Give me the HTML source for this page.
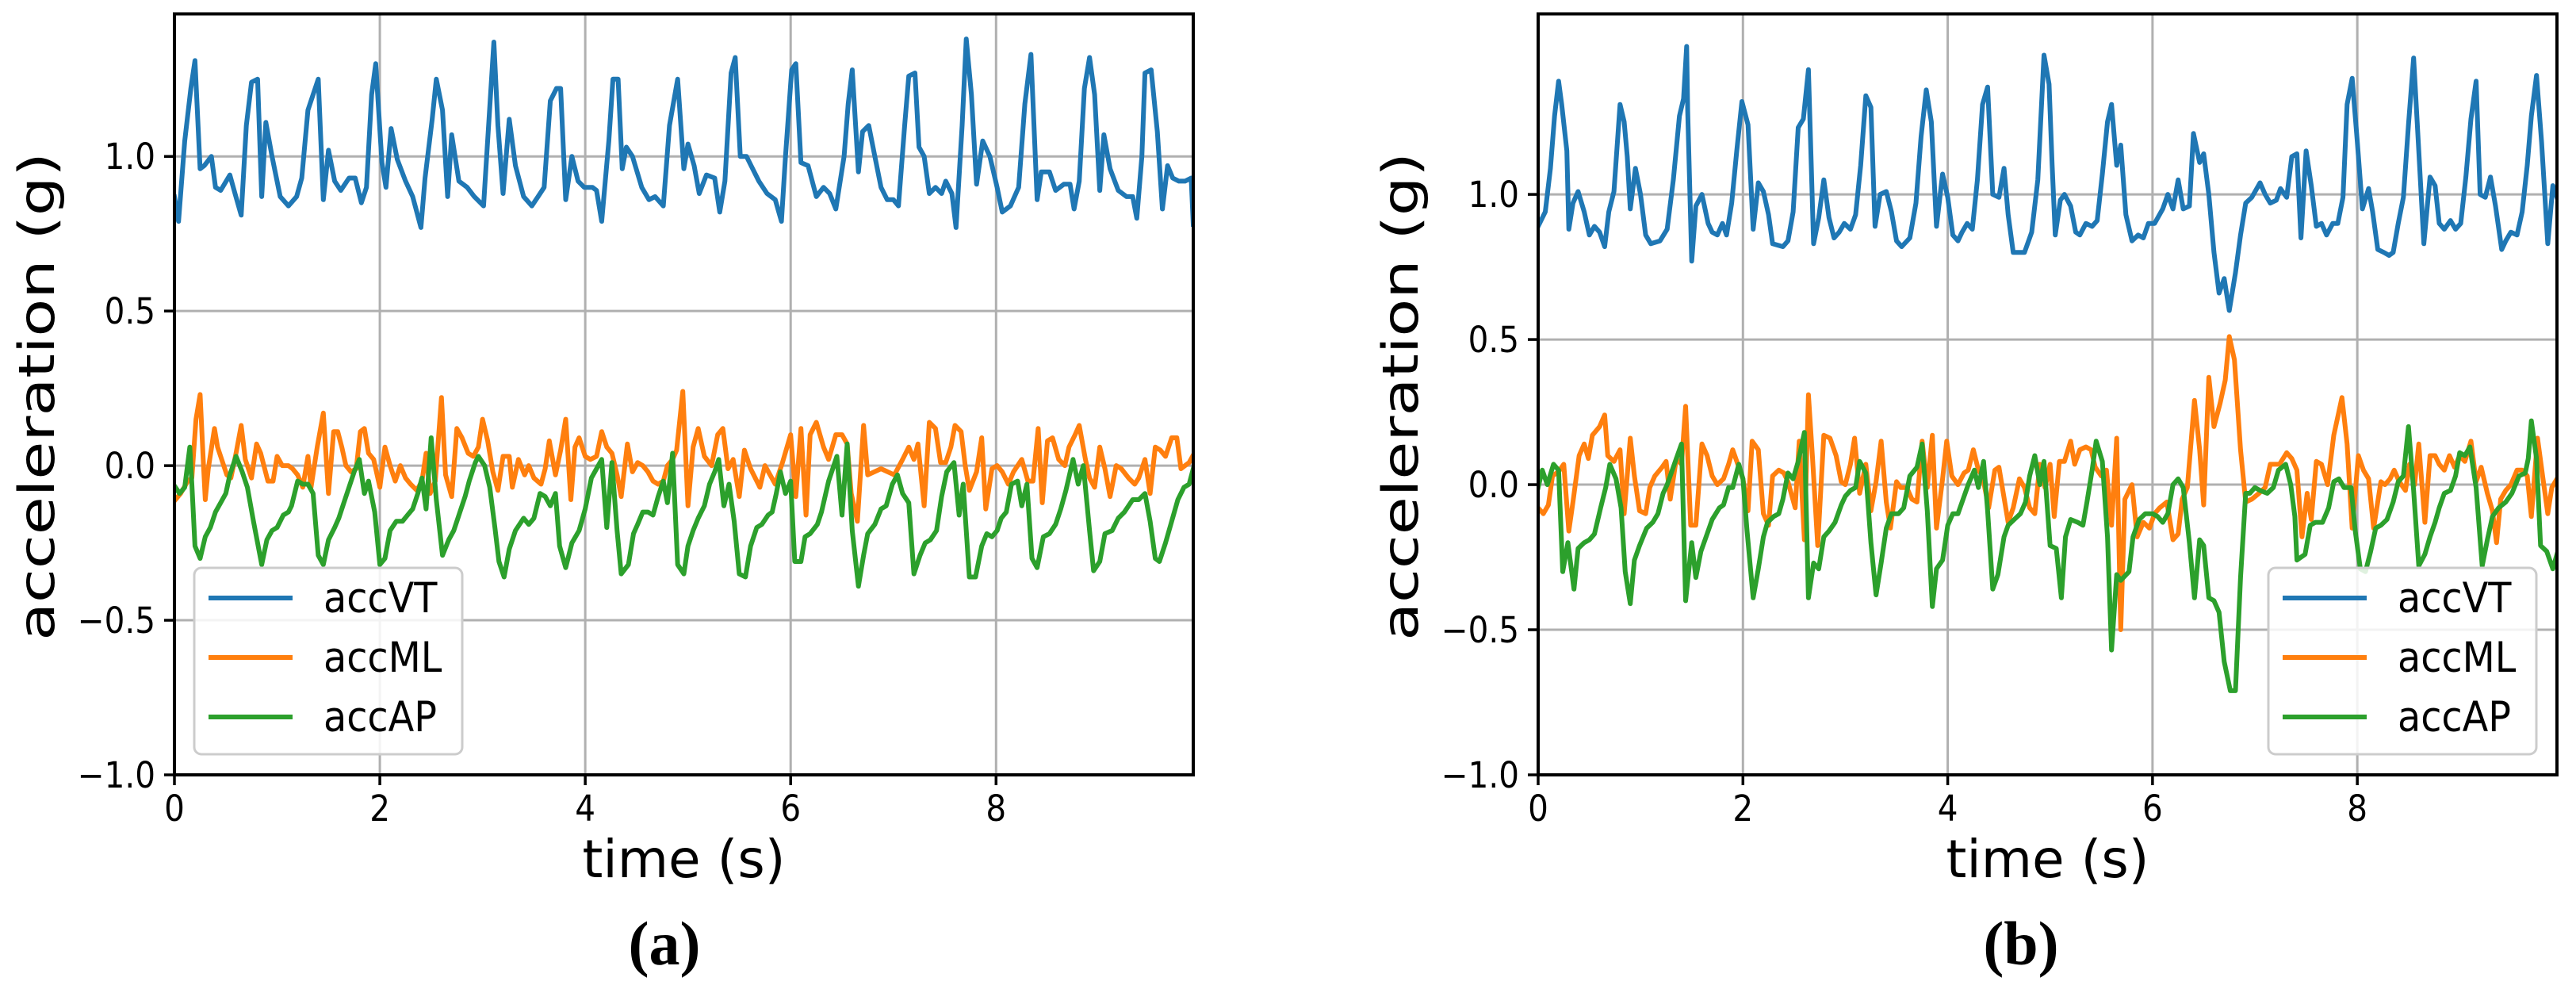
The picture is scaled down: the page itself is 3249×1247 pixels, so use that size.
<!DOCTYPE html>
<html><head><meta charset="utf-8"><style>
html,body{margin:0;padding:0;background:#fff;}
svg{display:block;}
text{font-family:"DejaVu Sans","Liberation Sans",sans-serif;}
.tick{font-family:"DejaVu Sans Condensed","DejaVu Sans",sans-serif;font-size:45px;fill:#000;}
.cap{font-family:"Liberation Serif","DejaVu Serif",serif;font-weight:bold;font-size:78px;}
</style></head>
<body>
<svg id="fig" width="3249" height="1247" viewBox="0 0 3249 1247" xmlns="http://www.w3.org/2000/svg"></svg>
<script>
// ---------- data: panel (a) ----------
const tVT_a=[0,0.04,0.10,0.16,0.20,0.25,0.29,0.36,0.40,0.45,0.54,0.59,0.65,0.70,0.75,0.81,0.85,0.89,0.95,1.03,1.11,1.19,1.24,1.30,1.40,1.45,1.50,1.56,1.62,1.70,1.76,1.82,1.87,1.92,1.96,2.02,2.06,2.11,2.17,2.25,2.32,2.40,2.44,2.51,2.55,2.61,2.66,2.70,2.77,2.85,2.92,3.01,3.04,3.11,3.15,3.20,3.26,3.32,3.40,3.48,3.54,3.60,3.66,3.72,3.76,3.81,3.87,3.93,3.99,4.07,4.11,4.16,4.23,4.27,4.32,4.36,4.40,4.46,4.55,4.62,4.68,4.76,4.82,4.90,4.96,5.00,5.06,5.11,5.18,5.26,5.31,5.36,5.42,5.46,5.51,5.57,5.63,5.69,5.77,5.85,5.91,5.95,6.01,6.05,6.10,6.17,6.25,6.32,6.38,6.44,6.52,6.56,6.60,6.66,6.70,6.76,6.82,6.88,6.94,7.00,7.05,7.11,7.15,7.21,7.25,7.30,7.35,7.41,7.47,7.51,7.57,7.61,7.67,7.71,7.76,7.81,7.87,7.94,8.01,8.06,8.14,8.22,8.28,8.34,8.40,8.44,8.52,8.58,8.66,8.72,8.76,8.81,8.86,8.91,8.96,9.01,9.05,9.11,9.19,9.27,9.33,9.37,9.42,9.45,9.51,9.57,9.62,9.67,9.72,9.78,9.84,9.90,9.92];
const vVT_a=[0.87,0.79,1.05,1.22,1.31,0.96,0.97,1.00,0.90,0.89,0.94,0.88,0.81,1.10,1.24,1.25,0.87,1.11,1.00,0.87,0.84,0.87,0.93,1.15,1.25,0.86,1.02,0.92,0.89,0.93,0.93,0.85,0.90,1.20,1.30,0.98,0.90,1.09,0.99,0.92,0.87,0.77,0.93,1.12,1.25,1.15,0.87,1.07,0.92,0.90,0.87,0.84,1.00,1.37,1.10,0.88,1.12,0.97,0.87,0.84,0.87,0.90,1.18,1.22,1.22,0.86,1.00,0.92,0.90,0.90,0.89,0.79,1.05,1.25,1.25,0.96,1.03,1.00,0.90,0.86,0.87,0.84,1.10,1.25,0.96,1.04,0.97,0.88,0.94,0.93,0.82,0.92,1.27,1.32,1.00,1.00,0.96,0.92,0.88,0.86,0.79,1.00,1.28,1.30,0.98,0.97,0.87,0.90,0.88,0.83,1.00,1.17,1.28,0.95,1.08,1.10,1.00,0.90,0.86,0.86,0.84,1.10,1.26,1.27,1.03,1.00,0.88,0.90,0.88,0.92,0.88,0.77,1.10,1.38,1.20,0.91,1.05,1.00,0.90,0.82,0.84,0.90,1.17,1.33,0.86,0.95,0.95,0.89,0.91,0.91,0.83,0.92,1.22,1.32,1.20,0.89,1.07,0.96,0.89,0.87,0.87,0.80,1.00,1.27,1.28,1.08,0.83,0.97,0.93,0.92,0.92,0.93,0.78];
const tML_a=[0.01,0.06,0.13,0.17,0.21,0.25,0.28,0.30,0.33,0.39,0.42,0.46,0.51,0.55,0.60,0.65,0.69,0.75,0.80,0.84,0.91,0.96,1.00,1.05,1.11,1.15,1.20,1.25,1.30,1.33,1.39,1.45,1.50,1.55,1.59,1.63,1.67,1.72,1.77,1.81,1.85,1.89,1.94,2.00,2.05,2.10,2.15,2.20,2.25,2.30,2.36,2.41,2.45,2.49,2.54,2.60,2.64,2.70,2.75,2.80,2.86,2.91,2.96,3.00,3.05,3.10,3.15,3.20,3.26,3.29,3.35,3.41,3.45,3.50,3.57,3.61,3.65,3.71,3.76,3.81,3.86,3.90,3.94,4.00,4.05,4.11,4.16,4.21,4.26,4.31,4.35,4.41,4.46,4.51,4.56,4.61,4.66,4.71,4.76,4.80,4.85,4.89,4.95,5.00,5.05,5.10,5.16,5.23,5.29,5.34,5.39,5.44,5.50,5.55,5.61,5.70,5.75,5.80,5.85,5.92,6.00,6.05,6.10,6.15,6.19,6.25,6.32,6.37,6.44,6.50,6.55,6.59,6.65,6.71,6.75,6.88,7.01,7.09,7.15,7.20,7.24,7.30,7.35,7.41,7.46,7.51,7.56,7.60,7.66,7.70,7.74,7.81,7.86,7.90,7.96,8.01,8.06,8.12,8.17,8.25,8.31,8.36,8.41,8.45,8.50,8.55,8.61,8.67,8.71,8.77,8.81,8.87,8.91,8.96,9.01,9.06,9.11,9.17,9.22,9.29,9.35,9.39,9.45,9.50,9.55,9.60,9.65,9.71,9.76,9.80,9.88,9.93];
const vML_a=[-0.11,-0.09,-0.05,-0.04,0.15,0.23,0.02,-0.11,-0.01,0.12,0.06,0.02,-0.03,-0.04,0.04,0.13,0.02,-0.04,0.07,0.04,-0.05,-0.05,0.03,0.00,0.00,-0.01,-0.03,-0.07,0.03,-0.07,0.06,0.17,-0.09,0.11,0.11,0.06,0.00,-0.02,-0.01,0.11,0.12,0.04,0.02,-0.07,0.06,0.00,-0.05,0.00,-0.04,-0.06,-0.08,-0.05,0.04,-0.09,-0.05,0.22,-0.03,-0.10,0.12,0.09,0.04,0.03,0.06,0.15,0.08,-0.02,-0.08,0.03,0.03,-0.07,0.02,-0.03,0.00,-0.04,-0.06,-0.01,0.08,-0.03,0.05,0.15,-0.11,0.06,0.09,0.03,0.02,0.03,0.11,0.06,0.04,-0.03,-0.10,0.07,-0.02,0.01,0.00,-0.02,-0.05,-0.06,-0.05,0.00,0.02,0.05,0.24,-0.13,0.06,0.12,0.03,0.00,0.10,0.12,-0.01,0.02,-0.10,0.05,-0.01,-0.07,0.00,-0.03,-0.06,0.01,0.10,-0.10,0.12,-0.16,0.10,0.14,0.06,0.02,0.10,0.10,0.07,-0.09,-0.18,0.13,-0.03,-0.01,-0.03,0.02,0.06,0.02,0.07,-0.13,0.14,0.12,0.01,0.01,0.06,0.13,0.11,0.00,-0.08,-0.02,0.09,-0.14,-0.01,0.00,-0.02,-0.06,-0.02,0.02,-0.05,-0.05,0.12,-0.12,0.08,0.09,0.02,0.00,0.06,0.10,0.13,0.02,-0.04,-0.07,0.06,-0.01,-0.10,0.00,-0.01,-0.04,-0.06,-0.04,0.02,-0.09,0.06,0.05,0.03,0.09,0.09,-0.01,0.01,0.04];
const tAP_a=[0.01,0.05,0.10,0.15,0.17,0.20,0.25,0.30,0.35,0.40,0.45,0.50,0.54,0.60,0.66,0.71,0.77,0.85,0.90,0.95,1.00,1.06,1.11,1.14,1.20,1.25,1.30,1.35,1.40,1.45,1.50,1.56,1.60,1.65,1.70,1.75,1.80,1.85,1.89,1.95,2.00,2.05,2.10,2.16,2.22,2.27,2.32,2.37,2.41,2.45,2.50,2.55,2.61,2.67,2.72,2.77,2.83,2.87,2.93,2.96,3.02,3.07,3.12,3.16,3.21,3.26,3.32,3.40,3.45,3.50,3.56,3.61,3.66,3.71,3.75,3.81,3.87,3.94,4.00,4.06,4.11,4.16,4.21,4.26,4.31,4.35,4.42,4.47,4.51,4.56,4.61,4.66,4.71,4.76,4.80,4.85,4.90,4.96,5.00,5.05,5.10,5.16,5.21,5.26,5.30,5.35,5.40,5.45,5.50,5.56,5.61,5.67,5.72,5.78,5.82,5.86,5.90,5.95,6.00,6.04,6.10,6.14,6.19,6.26,6.30,6.37,6.45,6.50,6.55,6.60,6.66,6.71,6.75,6.82,6.88,6.93,6.99,7.04,7.09,7.15,7.20,7.26,7.31,7.36,7.42,7.47,7.52,7.59,7.64,7.68,7.74,7.80,7.86,7.91,7.96,8.01,8.05,8.10,8.15,8.21,8.25,8.30,8.35,8.40,8.46,8.52,8.58,8.63,8.68,8.75,8.80,8.85,8.91,8.95,9.01,9.06,9.13,9.19,9.25,9.33,9.39,9.45,9.50,9.55,9.59,9.65,9.71,9.77,9.83,9.88,9.92];
const vAP_a=[-0.07,-0.09,-0.07,0.06,-0.06,-0.26,-0.30,-0.23,-0.20,-0.15,-0.12,-0.09,-0.03,0.03,-0.02,-0.07,-0.18,-0.32,-0.24,-0.21,-0.20,-0.16,-0.15,-0.13,-0.05,-0.06,-0.06,-0.09,-0.29,-0.32,-0.24,-0.20,-0.17,-0.12,-0.07,-0.02,0.02,-0.09,-0.05,-0.15,-0.32,-0.30,-0.21,-0.18,-0.18,-0.16,-0.14,-0.09,-0.04,-0.14,0.09,-0.11,-0.29,-0.24,-0.21,-0.16,-0.10,-0.05,0.01,0.03,0.00,-0.07,-0.20,-0.31,-0.36,-0.27,-0.21,-0.17,-0.19,-0.17,-0.09,-0.10,-0.13,-0.09,-0.26,-0.33,-0.25,-0.21,-0.14,-0.04,-0.01,0.02,-0.20,0.01,-0.21,-0.35,-0.32,-0.22,-0.19,-0.15,-0.15,-0.16,-0.10,-0.05,-0.12,0.04,-0.32,-0.35,-0.26,-0.21,-0.17,-0.13,-0.06,-0.02,0.02,-0.13,-0.06,-0.18,-0.35,-0.36,-0.26,-0.20,-0.19,-0.16,-0.15,-0.09,-0.02,-0.09,-0.05,-0.31,-0.31,-0.23,-0.22,-0.19,-0.15,-0.05,0.03,-0.16,0.07,-0.21,-0.39,-0.29,-0.22,-0.19,-0.14,-0.13,-0.06,-0.03,-0.09,-0.12,-0.35,-0.29,-0.25,-0.24,-0.21,-0.10,-0.02,0.01,-0.16,-0.06,-0.36,-0.36,-0.26,-0.22,-0.23,-0.21,-0.17,-0.15,-0.06,-0.05,-0.13,-0.06,-0.30,-0.33,-0.23,-0.22,-0.19,-0.14,-0.08,0.02,-0.06,0.00,-0.21,-0.34,-0.31,-0.22,-0.21,-0.17,-0.15,-0.11,-0.11,-0.09,-0.18,-0.30,-0.31,-0.25,-0.18,-0.11,-0.07,-0.06,-0.01];
// ---------- data: panel (b) ----------
const tVT_b=[0,0.07,0.12,0.16,0.20,0.23,0.28,0.30,0.34,0.39,0.45,0.50,0.55,0.60,0.65,0.69,0.74,0.80,0.84,0.87,0.90,0.95,1.00,1.05,1.10,1.19,1.26,1.32,1.38,1.42,1.45,1.46,1.50,1.54,1.60,1.66,1.70,1.75,1.80,1.84,1.89,1.94,1.99,2.05,2.10,2.15,2.20,2.25,2.29,2.39,2.44,2.49,2.54,2.59,2.64,2.69,2.74,2.79,2.84,2.89,2.94,2.99,3.05,3.10,3.15,3.20,3.25,3.29,3.34,3.40,3.45,3.50,3.55,3.63,3.69,3.74,3.79,3.84,3.89,3.95,4.00,4.05,4.10,4.14,4.19,4.24,4.29,4.34,4.39,4.44,4.50,4.55,4.59,4.64,4.75,4.82,4.88,4.94,4.99,5.02,5.05,5.10,5.14,5.20,5.25,5.29,5.35,5.41,5.46,5.51,5.56,5.60,5.65,5.69,5.74,5.80,5.86,5.91,5.96,6.02,6.10,6.15,6.20,6.25,6.30,6.36,6.40,6.46,6.50,6.55,6.60,6.65,6.70,6.75,6.81,6.86,6.91,6.97,7.05,7.10,7.15,7.21,7.25,7.31,7.36,7.41,7.45,7.50,7.55,7.60,7.65,7.70,7.76,7.81,7.86,7.90,7.95,8.00,8.05,8.11,8.15,8.20,8.26,8.31,8.35,8.40,8.45,8.50,8.55,8.60,8.65,8.71,8.76,8.80,8.85,8.91,8.96,9.01,9.06,9.11,9.16,9.20,9.25,9.30,9.35,9.41,9.45,9.50,9.56,9.61,9.66,9.70,9.75,9.80,9.86,9.91,9.95];
const vVT_b=[0.89,0.94,1.09,1.27,1.39,1.31,1.15,0.88,0.97,1.01,0.94,0.86,0.89,0.87,0.82,0.94,1.01,1.31,1.25,1.13,0.95,1.09,1.00,0.86,0.83,0.84,0.88,1.05,1.27,1.33,1.51,1.29,0.77,0.96,1.00,0.90,0.87,0.86,0.90,0.86,0.97,1.15,1.32,1.24,0.88,1.04,1.01,0.93,0.83,0.82,0.84,0.94,1.23,1.26,1.43,0.83,0.92,1.05,0.92,0.85,0.87,0.90,0.88,0.93,1.10,1.34,1.30,0.89,1.00,1.01,0.94,0.84,0.82,0.85,0.97,1.20,1.36,1.25,0.89,1.07,0.99,0.86,0.84,0.87,0.90,0.88,1.05,1.31,1.37,1.00,0.99,1.09,0.93,0.80,0.80,0.87,1.05,1.48,1.38,1.10,0.86,0.98,1.00,0.96,0.87,0.86,0.90,0.89,0.91,1.07,1.25,1.31,1.10,1.17,0.93,0.84,0.86,0.85,0.90,0.90,0.95,1.00,0.95,1.05,0.95,0.96,1.21,1.11,1.14,1.00,0.80,0.66,0.71,0.60,0.73,0.86,0.97,0.99,1.04,1.00,0.97,0.98,1.02,0.99,1.13,1.14,0.85,1.15,1.03,0.89,0.90,0.86,0.90,0.90,0.99,1.31,1.40,1.18,0.95,1.02,0.94,0.81,0.80,0.79,0.80,0.90,0.99,1.24,1.47,1.15,0.83,1.06,1.03,0.90,0.88,0.91,0.88,0.90,1.06,1.26,1.39,1.00,0.99,1.06,0.96,0.81,0.84,0.87,0.86,0.94,1.10,1.27,1.41,1.18,0.83,1.03,0.99];
const tML_b=[0,0.05,0.10,0.14,0.18,0.21,0.25,0.30,0.34,0.40,0.45,0.49,0.53,0.60,0.65,0.68,0.74,0.80,0.84,0.90,0.94,0.99,1.05,1.09,1.14,1.21,1.25,1.29,1.35,1.40,1.44,1.49,1.54,1.60,1.65,1.70,1.75,1.81,1.86,1.90,1.95,2.00,2.05,2.09,2.15,2.20,2.25,2.29,2.35,2.40,2.44,2.51,2.55,2.60,2.64,2.68,2.73,2.79,2.85,2.91,2.96,3.00,3.05,3.09,3.14,3.20,3.25,3.30,3.35,3.40,3.44,3.50,3.54,3.60,3.65,3.70,3.75,3.80,3.85,3.89,3.95,3.99,4.04,4.10,4.16,4.20,4.25,4.30,4.34,4.40,4.46,4.50,4.59,4.64,4.70,4.75,4.80,4.85,4.90,4.95,5.00,5.04,5.09,5.14,5.20,5.24,5.29,5.35,5.40,5.44,5.50,5.55,5.60,5.65,5.69,5.73,5.80,5.85,5.91,5.97,6.02,6.07,6.14,6.20,6.25,6.29,6.34,6.41,6.46,6.50,6.55,6.60,6.66,6.71,6.75,6.80,6.86,6.91,6.97,7.04,7.10,7.15,7.20,7.24,7.31,7.36,7.41,7.46,7.51,7.55,7.60,7.65,7.71,7.77,7.85,7.90,7.95,8.01,8.06,8.11,8.16,8.23,8.27,8.32,8.36,8.41,8.47,8.51,8.56,8.60,8.66,8.71,8.76,8.80,8.85,8.90,8.95,9.00,9.05,9.11,9.16,9.21,9.27,9.32,9.36,9.40,9.45,9.50,9.56,9.61,9.66,9.70,9.76,9.81,9.86,9.90,9.95];
const vML_b=[-0.08,-0.10,-0.07,0.03,0.04,0.05,0.07,-0.16,-0.06,0.10,0.14,0.09,0.17,0.20,0.24,0.10,0.08,0.12,-0.10,0.16,0.03,-0.09,-0.10,-0.01,0.03,0.06,0.08,-0.05,0.09,0.07,0.27,-0.14,-0.14,0.14,0.10,0.03,0.00,0.02,0.07,0.12,0.07,0.02,-0.09,0.15,0.12,-0.10,-0.14,0.03,0.05,0.04,0.01,-0.08,0.15,-0.19,0.31,0.09,-0.21,0.17,0.16,0.10,0.01,0.00,0.07,0.16,-0.03,0.07,-0.09,0.01,0.15,-0.06,-0.15,0.01,-0.01,-0.01,-0.05,-0.06,0.15,-0.01,0.17,-0.15,0.02,0.15,0.03,0.00,0.04,0.05,0.12,0.05,0.03,-0.08,0.05,0.06,-0.13,-0.08,0.02,-0.01,-0.08,-0.10,0.07,-0.01,0.07,-0.11,0.08,0.08,0.15,0.07,0.12,0.13,0.12,0.06,0.03,0.05,-0.14,0.16,-0.50,-0.05,0.00,-0.18,-0.13,-0.15,-0.10,-0.08,-0.06,-0.19,-0.17,-0.05,-0.01,0.29,0.12,-0.07,0.37,0.20,0.28,0.36,0.51,0.43,0.12,-0.06,-0.05,-0.03,-0.01,0.07,0.07,0.07,0.11,0.09,0.05,-0.18,-0.03,-0.12,0.08,0.07,0.00,0.17,0.30,0.14,-0.15,0.10,0.05,0.02,-0.15,0.01,0.00,0.02,0.05,0.01,-0.02,0.07,0.00,0.14,-0.13,0.10,0.10,0.07,0.05,0.10,0.06,0.10,0.08,0.15,0.01,0.06,-0.03,-0.09,-0.20,-0.05,-0.02,0.00,0.05,0.05,0.03,-0.11,0.16,0.03,-0.10,-0.01,0.02];
const tAP_b=[0,0.04,0.09,0.15,0.20,0.24,0.29,0.35,0.39,0.45,0.50,0.55,0.61,0.66,0.70,0.76,0.81,0.85,0.90,0.94,0.99,1.06,1.12,1.17,1.22,1.26,1.30,1.35,1.40,1.44,1.50,1.54,1.59,1.65,1.70,1.77,1.81,1.86,1.90,1.96,2.00,2.04,2.10,2.15,2.20,2.24,2.30,2.35,2.39,2.44,2.49,2.54,2.60,2.64,2.69,2.74,2.79,2.84,2.90,2.96,3.00,3.05,3.10,3.14,3.20,3.25,3.30,3.35,3.40,3.45,3.52,3.57,3.63,3.70,3.75,3.80,3.85,3.89,3.95,4.00,4.05,4.10,4.14,4.20,4.26,4.30,4.35,4.39,4.44,4.49,4.55,4.59,4.65,4.71,4.76,4.80,4.85,4.90,4.94,5.00,5.06,5.11,5.15,5.20,5.27,5.32,5.36,5.41,5.45,5.51,5.56,5.60,5.65,5.69,5.77,5.81,5.87,5.93,6.00,6.05,6.10,6.15,6.20,6.25,6.30,6.36,6.41,6.46,6.50,6.55,6.60,6.65,6.70,6.76,6.81,6.86,6.91,6.95,7.00,7.05,7.12,7.18,7.23,7.30,7.35,7.39,7.41,7.49,7.54,7.59,7.66,7.72,7.77,7.82,7.87,7.94,7.98,8.03,8.08,8.13,8.18,8.23,8.29,8.35,8.40,8.45,8.50,8.55,8.60,8.66,8.71,8.76,8.80,8.85,8.91,8.96,9.00,9.05,9.10,9.16,9.22,9.27,9.32,9.38,9.45,9.51,9.58,9.64,9.67,9.70,9.75,9.79,9.85,9.91,9.95];
const vAP_b=[-0.01,0.05,0.00,0.07,0.05,-0.30,-0.20,-0.36,-0.22,-0.20,-0.19,-0.17,-0.08,-0.01,0.07,0.02,-0.08,-0.30,-0.41,-0.26,-0.21,-0.15,-0.13,-0.10,-0.03,0.00,0.04,0.09,0.14,-0.40,-0.20,-0.32,-0.23,-0.17,-0.12,-0.08,-0.07,-0.01,-0.01,0.07,0.02,-0.16,-0.39,-0.29,-0.18,-0.13,-0.11,-0.10,-0.05,0.04,0.02,0.08,0.18,-0.39,-0.27,-0.29,-0.18,-0.16,-0.13,-0.07,-0.04,-0.02,-0.01,0.08,0.04,-0.20,-0.38,-0.27,-0.15,-0.10,-0.10,-0.08,0.03,0.06,0.14,-0.09,-0.42,-0.29,-0.26,-0.14,-0.10,-0.10,-0.06,0.00,0.05,-0.01,0.08,-0.09,-0.36,-0.31,-0.18,-0.14,-0.12,-0.10,-0.06,0.03,0.10,0.00,0.08,-0.21,-0.22,-0.39,-0.18,-0.12,-0.13,-0.14,-0.06,0.05,0.15,0.08,-0.18,-0.57,-0.31,-0.33,-0.30,-0.18,-0.12,-0.10,-0.10,-0.11,-0.13,-0.10,0.00,0.02,-0.01,-0.20,-0.39,-0.19,-0.21,-0.39,-0.40,-0.44,-0.61,-0.71,-0.71,-0.32,-0.03,-0.03,-0.01,-0.02,-0.03,-0.01,0.05,0.07,0.00,-0.11,-0.26,-0.24,-0.14,-0.13,-0.13,-0.08,0.01,0.02,-0.01,-0.01,-0.16,-0.29,-0.30,-0.23,-0.15,-0.14,-0.12,-0.06,0.01,0.03,0.20,-0.02,-0.28,-0.24,-0.18,-0.13,-0.08,-0.03,-0.02,0.03,0.11,0.10,0.13,-0.01,-0.28,-0.19,-0.11,-0.08,-0.06,-0.03,0.03,0.04,0.09,0.22,0.09,-0.21,-0.23,-0.29,-0.24];
const xTicks=[0,2,4,6,8];
const yTicks=[-1.0,-0.5,0.0,0.5,1.0];
const yTickLabels=["\u22121.0","\u22120.5","0.0","0.5","1.0"];
const seriesNames=["accVT","accML","accAP"];
const seriesColors=["#1f77b4","#ff7f0e","#2ca02c"];

const NS="http://www.w3.org/2000/svg";
const fig=document.getElementById('fig');
function mk(tag,attrs,parent){const e=document.createElementNS(NS,tag);for(const k in attrs)e.setAttribute(k,attrs[k]);(parent||fig).appendChild(e);return e;}

function drawPanel(p){
  const g=mk('g',{});
  
  
  const sx=t=>p.L+(t-p.x0)/(p.x1-p.x0)*(p.R-p.L);
  const sy=v=>p.B-(v-p.y0)/(p.y1-p.y0)*(p.B-p.T);
  const clip=mk('clipPath',{id:'clip-'+p.id},g);
  mk('rect',{x:p.L,y:p.T,width:p.R-p.L,height:p.B-p.T},clip);
  xTicks.forEach(t=>{const l=mk('line',{x1:sx(t),x2:sx(t),y1:p.T,y2:p.B,stroke:'#b0b0b0','stroke-width':3},g);
    
    });
  yTicks.forEach(v=>{const l=mk('line',{x1:p.L,x2:p.R,y1:sy(v),y2:sy(v),stroke:'#b0b0b0','stroke-width':3},g);
    
    });
  const sg=mk('g',{'clip-path':'url(#clip-'+p.id+')'},g);
  p.series.forEach((s,i)=>{
    const d=s[0].map((t,j)=>(j?'L':'M')+sx(t).toFixed(1)+','+sy(s[1][j]).toFixed(1)).join('');
    const path=mk('path',{d:d,fill:'none',stroke:seriesColors[i],'stroke-width':6,'stroke-linejoin':'round','stroke-linecap':'square'},sg);
    
    
  });
  const sp=mk('rect',{x:p.L,y:p.T,width:p.R-p.L,height:p.B-p.T,fill:'none',stroke:'#000','stroke-width':4},g);
  
  
  xTicks.forEach(t=>{
    mk('line',{x1:sx(t),x2:sx(t),y1:p.B,y2:p.B+13,stroke:'#000','stroke-width':3.5},g);
    const tx=mk('text',{x:sx(t),y:p.B+58,'text-anchor':'middle',class:'tick'},g);
    tx.textContent=String(t);
    
    
  });
  yTicks.forEach((v,i)=>{
    mk('line',{x1:p.L-13,x2:p.L,y1:sy(v),y2:sy(v),stroke:'#000','stroke-width':3.5},g);
    const tx=mk('text',{x:p.L-24,y:sy(v)+16,'text-anchor':'end',class:'tick'},g);
    tx.textContent=yTickLabels[i];
    
    
  });
  const xl=mk('text',{x:(p.L+p.R)/2,y:1106,'text-anchor':'middle','font-size':66},g);
  xl.textContent='time (s)';
  
  
  const yl=mk('text',{transform:'translate('+(p.ylx)+',500) rotate(-90) scale(1,0.8)','text-anchor':'middle','font-size':78},g);
  yl.textContent='acceleration (g)';
  
  
  const lg=mk('g',{},g);
  
  
  mk('rect',{x:p.lgx,y:716,width:338,height:235,rx:9,fill:'#fff','fill-opacity':0.85,stroke:'#cccccc','stroke-width':3},lg);
  seriesNames.forEach((n,i)=>{
    const yy=754+i*75;
    const ln=mk('line',{x1:p.lgx+18,x2:p.lgx+124,y1:yy,y2:yy,stroke:seriesColors[i],'stroke-width':6},lg);
    
    
    const tx=mk('text',{x:p.lgx+163,y:yy+18,class:'tick'},lg);
    tx.setAttribute('style','font-size:53px');
    tx.textContent=n;
    
    
  });
  const cp=mk('text',{x:p.capx,y:1216,'text-anchor':'middle',class:'cap'},g);
  cp.textContent=p.cap;
  
  
}

drawPanel({id:'a',L:220,R:1505,T:17.5,B:977,x0:0,x1:9.92,y0:-1,y1:1.461,ylx:68,lgx:245,capx:838,cap:'(a)',
  series:[[tVT_a,vVT_a],[tML_a,vML_a],[tAP_a,vAP_a]]});
drawPanel({id:'b',L:1940,R:3225,T:17.5,B:977,x0:0,x1:9.95,y0:-1,y1:1.622,ylx:1788,lgx:2861,capx:2549,cap:'(b)',
  series:[[tVT_b,vVT_b],[tML_b,vML_b],[tAP_b,vAP_b]]});
</script>
</body></html>
